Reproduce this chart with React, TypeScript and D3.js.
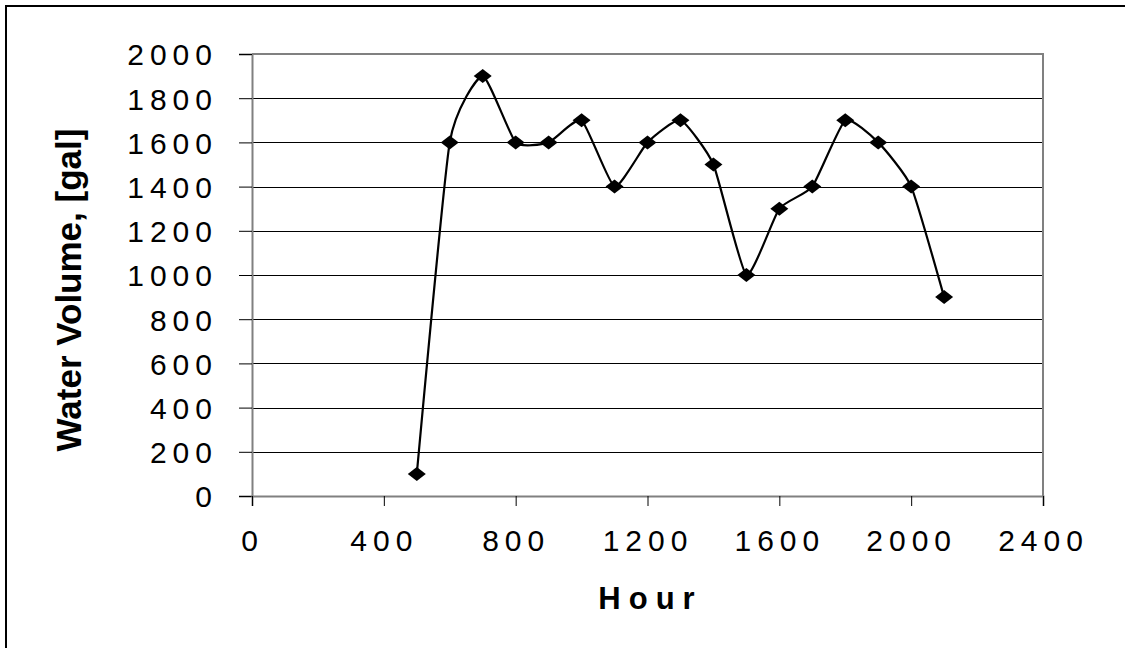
import { useRef, useEffect } from 'react';
import * as d3 from 'd3';

// hour of day vs water volume in the tank
const hours = [500, 600, 700, 800, 900, 1000, 1100, 1200, 1300, 1400, 1500, 1600, 1700, 1800, 1900, 2000, 2100];
const volumes = [100, 1600, 1900, 1600, 1600, 1700, 1400, 1600, 1700, 1500, 1000, 1300, 1400, 1700, 1600, 1400, 900];
const xTicks = [0, 400, 800, 1200, 1600, 2000, 2400];
const yTicks = [0, 200, 400, 600, 800, 1000, 1200, 1400, 1600, 1800, 2000];

const W = 1125;
const H = 648;

export default function App() {
  const svgRef = useRef<SVGSVGElement>(null);

  useEffect(() => {
    if (!svgRef.current) return;
    const svg = d3.select(svgRef.current);
    svg.selectAll('*').remove();

    const margin = { top: 54, right: 82, bottom: 152, left: 252 };
    const innerWidth = W - margin.left - margin.right;
    const innerHeight = H - margin.top - margin.bottom;

    const x = d3.scaleLinear().domain([0, 2400]).range([0, innerWidth]);
    const y = d3.scaleLinear().domain([0, 2000]).range([innerHeight, 0]);

    svg.append('rect').attr('width', W).attr('height', H).attr('fill', '#fff');

    // outer chart frame (only top and left show)
    svg.append('path')
      .attr('d', `M6,${H} V6 H${W}`)
      .attr('fill', 'none')
      .attr('stroke', '#000')
      .attr('stroke-width', 2);

    const g = svg.append('g')
      .attr('transform', `translate(${margin.left},${margin.top})`);

    // grid lines
    g.append('g')
      .selectAll('line')
      .data(yTicks.filter(t => t > 0 && t < 2000))
      .enter().append('line')
      .attr('x1', 0)
      .attr('x2', innerWidth)
      .attr('y1', d => Math.round(y(d)) + 0.5)
      .attr('y2', d => Math.round(y(d)) + 0.5)
      .attr('stroke', '#000')
      .attr('stroke-width', 1);

    // plot area border (top and right)
    g.append('path')
      .attr('d', `M0,${y(2000)} H${innerWidth} V${innerHeight}`)
      .attr('fill', 'none')
      .attr('stroke', '#808080')
      .attr('stroke-width', 2);

    const font = '"Liberation Sans", Arial, sans-serif';

    // Y axis
    const yAxis = g.append('g')
      .call(d3.axisLeft(y).tickValues(yTicks).tickSize(13).tickPadding(21).tickFormat(d3.format('d')));
    yAxis.select('.domain').attr('stroke', '#808080').attr('stroke-width', 2);
    yAxis.selectAll('.tick line').attr('stroke', '#000');
    yAxis.selectAll('text')
      .style('font-family', font)
      .style('font-size', '30px')
      .style('letter-spacing', '6px')
      .attr('dy', '0.36em')
      .attr('fill', '#000');

    // X axis
    const xAxis = g.append('g')
      .attr('transform', `translate(0,${innerHeight})`)
      .call(d3.axisBottom(x).tickValues(xTicks).tickSize(10).tickPadding(24).tickFormat(d3.format('d')));
    xAxis.select('.domain').attr('stroke', '#808080').attr('stroke-width', 2);
    xAxis.selectAll('.tick line').attr('stroke', '#000');
    xAxis.selectAll('text')
      .style('font-family', font)
      .style('font-size', '30px')
      .style('letter-spacing', '6px')
      .attr('fill', '#000');

    // axis titles
    svg.append('text')
      .attr('x', margin.left + x(1200) + 3)
      .attr('y', 609)
      .attr('text-anchor', 'middle')
      .style('font-family', font)
      .style('font-size', '31px')
      .style('font-weight', 'bold')
      .style('letter-spacing', '8px')
      .text('Hour');

    svg.append('text')
      .attr('transform', `translate(81,${(125 + 455) / 2}) rotate(-90)`)
      .attr('text-anchor', 'middle')
      .style('font-family', font)
      .style('font-size', '35px')
      .style('font-weight', 'bold')
      .text('Water Volume, [gal]');

    const data = hours.map((h, i) => ({ h, v: volumes[i] }));

    // smoothed line
    const line = d3.line<{ h: number; v: number }>()
      .x(d => x(d.h))
      .y(d => y(d.v))
      .curve(d3.curveCardinal.tension(0.5));

    g.append('path')
      .datum(data)
      .attr('fill', 'none')
      .attr('stroke', '#000')
      .attr('stroke-width', 2.2)
      .attr('d', line);

    // diamond markers
    g.selectAll('.dot')
      .data(data)
      .enter().append('path')
      .attr('class', 'dot')
      .attr('d', d => {
        const cx = x(d.h);
        const cy = y(d.v);
        return `M${cx},${cy - 7} L${cx + 9},${cy} L${cx},${cy + 7} L${cx - 9},${cy} Z`;
      })
      .attr('fill', '#000');
  }, []);

  return (
    <svg
      ref={svgRef}
      width={W}
      height={H}
      style={{ position: 'absolute', left: 0, top: 0, display: 'block' }}
    />
  );
}
